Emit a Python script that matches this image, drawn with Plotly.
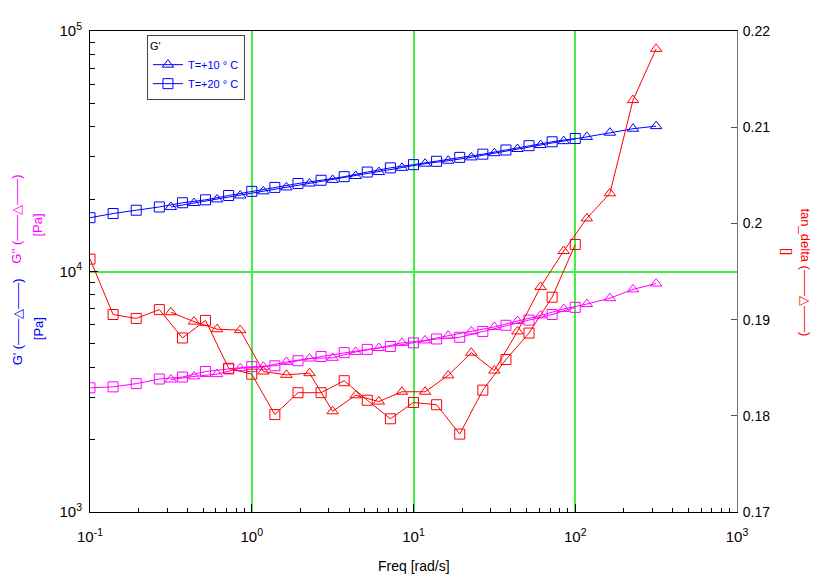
import plotly.graph_objects as go

# Frequencies [rad/s]
freq_t10 = [0.3162, 0.4394, 0.6105, 0.8483, 1.179, 1.638, 2.276, 3.162, 4.394, 6.105, 8.483,
            11.79, 16.38, 22.76, 31.62, 43.94, 61.05, 84.83, 117.9, 163.8, 227.6, 316.2]
freq_t20 = [0.1, 0.1389, 0.1931, 0.2683, 0.3728, 0.5179, 0.7197, 1.0, 1.389, 1.931, 2.683,
            3.728, 5.179, 7.197, 10.0, 13.89, 19.31, 26.83, 37.28, 51.79, 71.97, 100.0]

# G' [Pa]
gp_t10 = [18550, 19260, 19940, 20700, 21540, 22370, 23220, 24040, 24960, 25910, 26970,
          28080, 28880, 29820, 31040, 32310, 33550, 34830, 36290, 37770, 39230, 40230]
gp_t20 = [16740, 17420, 17980, 18550, 19310, 19860, 20700, 21540, 22370, 23220, 23950,
          24790, 25910, 26970, 27820, 28720, 29820, 30750, 32010, 33360, 34620, 35720]

# G'' [Pa]
gpp_t10 = [3555, 3663, 3743, 3960, 4016, 4207, 4347, 4377, 4629, 4806, 5050,
           5169, 5406, 5634, 5882, 6222, 6563, 6989, 7322, 7745, 8426, 8913]
gpp_t20 = [3283, 3314, 3418, 3572, 3640, 3838, 3933, 4023, 4053, 4256, 4430,
           4599, 4743, 4878, 5050, 5242, 5326, 5634, 5976, 6281, 6624, 7094]

# tan_delta []
tan_t10 = [0.19076, 0.18979, 0.1890, 0.1889, 0.1846, 0.18426, 0.18443, 0.18047, 0.18213, 0.18148, 0.1825,
           0.1825, 0.1842, 0.18656, 0.1847, 0.18877, 0.1934, 0.19713, 0.20052, 0.20313, 0.21282, 0.21814]
tan_t20 = [0.19629, 0.19053, 0.19012, 0.19104, 0.18809, 0.18992, 0.18494, 0.18433, 0.18013, 0.18240, 0.18240,
           0.18365, 0.18162, 0.17969, 0.18138, 0.18115, 0.1781, 0.18267, 0.18585, 0.1886, 0.19233, 0.19781]

x_tickvals = [0.1, 1, 10, 100, 1000]
x_ticktext = ["10<sup>-1</sup>", "10<sup>0</sup>", "10<sup>1</sup>", "10<sup>2</sup>", "10<sup>3</sup>"]
y_tickvals = [1000, 10000, 100000]
y_ticktext = ["10<sup>3</sup>", "10<sup>4</sup>", "10<sup>5</sup>"]
y2_tickvals = [0.17, 0.18, 0.19, 0.2, 0.21, 0.22]
y2_ticktext = ["0.17", "0.18", "0.19", "0.2", "0.21", "0.22"]

BLUE = "#0000ff"
MAG = "#ff00ff"
RED = "#ff0000"
FONT = "Liberation Sans, Arial, sans-serif"

x_minor = [m * 10 ** e for e in (-1, 0, 1, 2) for m in range(2, 10)]
y_minor = [m * 10 ** e for e in (3, 4) for m in range(2, 10)]

fig = go.Figure()

def add(x, y, color, symbol, name=None, legend=False, yaxis="y"):
    fig.add_trace(go.Scatter(
        x=x, y=y, mode="lines+markers", name=name, showlegend=legend, yaxis=yaxis,
        line=dict(color=color, width=1),
        marker=dict(symbol=symbol, size=10, color=color, line=dict(color=color, width=1)),
    ))

add(freq_t10, gpp_t10, MAG, "triangle-up-open")
add(freq_t20, gpp_t20, MAG, "square-open")
add(freq_t10, tan_t10, RED, "triangle-up-open", yaxis="y2")
add(freq_t20, tan_t20, RED, "square-open", yaxis="y2")
add(freq_t10, gp_t10, BLUE, "triangle-up-open", name="T=+10 \u00b0 C", legend=True)
add(freq_t20, gp_t20, BLUE, "square-open", name="T=+20 \u00b0 C", legend=True)

GRID = "#44ee44"

# page body has an 8px margin: figure sized to fit the 818x581 window
fig.update_layout(
    width=810, height=573,
    margin=dict(l=82, r=81, t=12, b=69),
    paper_bgcolor="white", plot_bgcolor="white",
    font=dict(family=FONT, size=14, color="black"),
    xaxis=dict(
        type="log", range=[-1, 3], tickmode="array", tickvals=x_tickvals, ticktext=x_ticktext,
        ticks="inside", ticklen=8, tickcolor="black", showline=True, linecolor="black", linewidth=1,
        mirror=True, showgrid=True, gridcolor=GRID, gridwidth=1.5, zeroline=False,
        tickfont=dict(size=15), ticklabelstandoff=11,
        minor=dict(tickvals=x_minor, ticks="inside", ticklen=4, tickcolor="black", showgrid=False),
    ),
    yaxis=dict(
        type="log", range=[3, 5], tickmode="array", tickvals=y_tickvals, ticktext=y_ticktext,
        ticks="inside", ticklen=8, tickcolor="black", showline=True, linecolor="black", linewidth=1,
        showgrid=True, gridcolor=GRID, gridwidth=1.5, zeroline=False,
        tickfont=dict(size=15), ticklabelstandoff=4,
        minor=dict(tickvals=y_minor, ticks="inside", ticklen=5, tickcolor="black", showgrid=False),
    ),
    yaxis2=dict(
        overlaying="y", side="right", range=[0.17, 0.22], tickmode="array",
        tickvals=y2_tickvals, ticktext=y2_ticktext,
        ticks="inside", ticklen=6, tickcolor="#555", showline=True, linecolor="#777", linewidth=1,
        showgrid=False, zeroline=False, tickfont=dict(size=14), ticklabelstandoff=2,
    ),
    legend=dict(
        x=0.088, y=0.992, xanchor="left", yanchor="top",
        bgcolor="white", bordercolor="#444", borderwidth=1,
        font=dict(family=FONT, size=11, color=BLUE),
        title=dict(text="G'", font=dict(family=FONT, size=11, color="black")),
        itemwidth=30, tracegroupgap=0,
    ),
    showlegend=True,
)

def px(x):
    return (x - 90) / 647.0

def py(y):
    return 1 - (y - 20) / 492.0

ann = [
    ("G'' (\u2014\u2014\u25b3\u2014\u2014)", 17, 213, MAG, -90),
    ("[Pa]", 38, 219, MAG, -90),
    ("G' (\u2014\u2014\u25b3\u2014\u2014)", 17, 318, BLUE, -90),
    ("[Pa]", 38, 325, BLUE, -90),
    ("tan_delta (\u2014\u2014\u25b3\u2014\u2014)", 806, 267, RED, 90),
    ("[]", 787, 245, RED, 90),
    ("Freq [rad/s]", 414, 567, "black", 0),
]
for text, x, y, c, ang in ann:
    fig.add_annotation(
        text=text, x=px(x), y=py(y), xref="paper", yref="paper",
        xanchor="center", yanchor="middle", showarrow=False, textangle=ang,
        font=dict(family=FONT, size=14 if ang == 0 else 13, color=c),
    )

fig.write_html("out.html")
